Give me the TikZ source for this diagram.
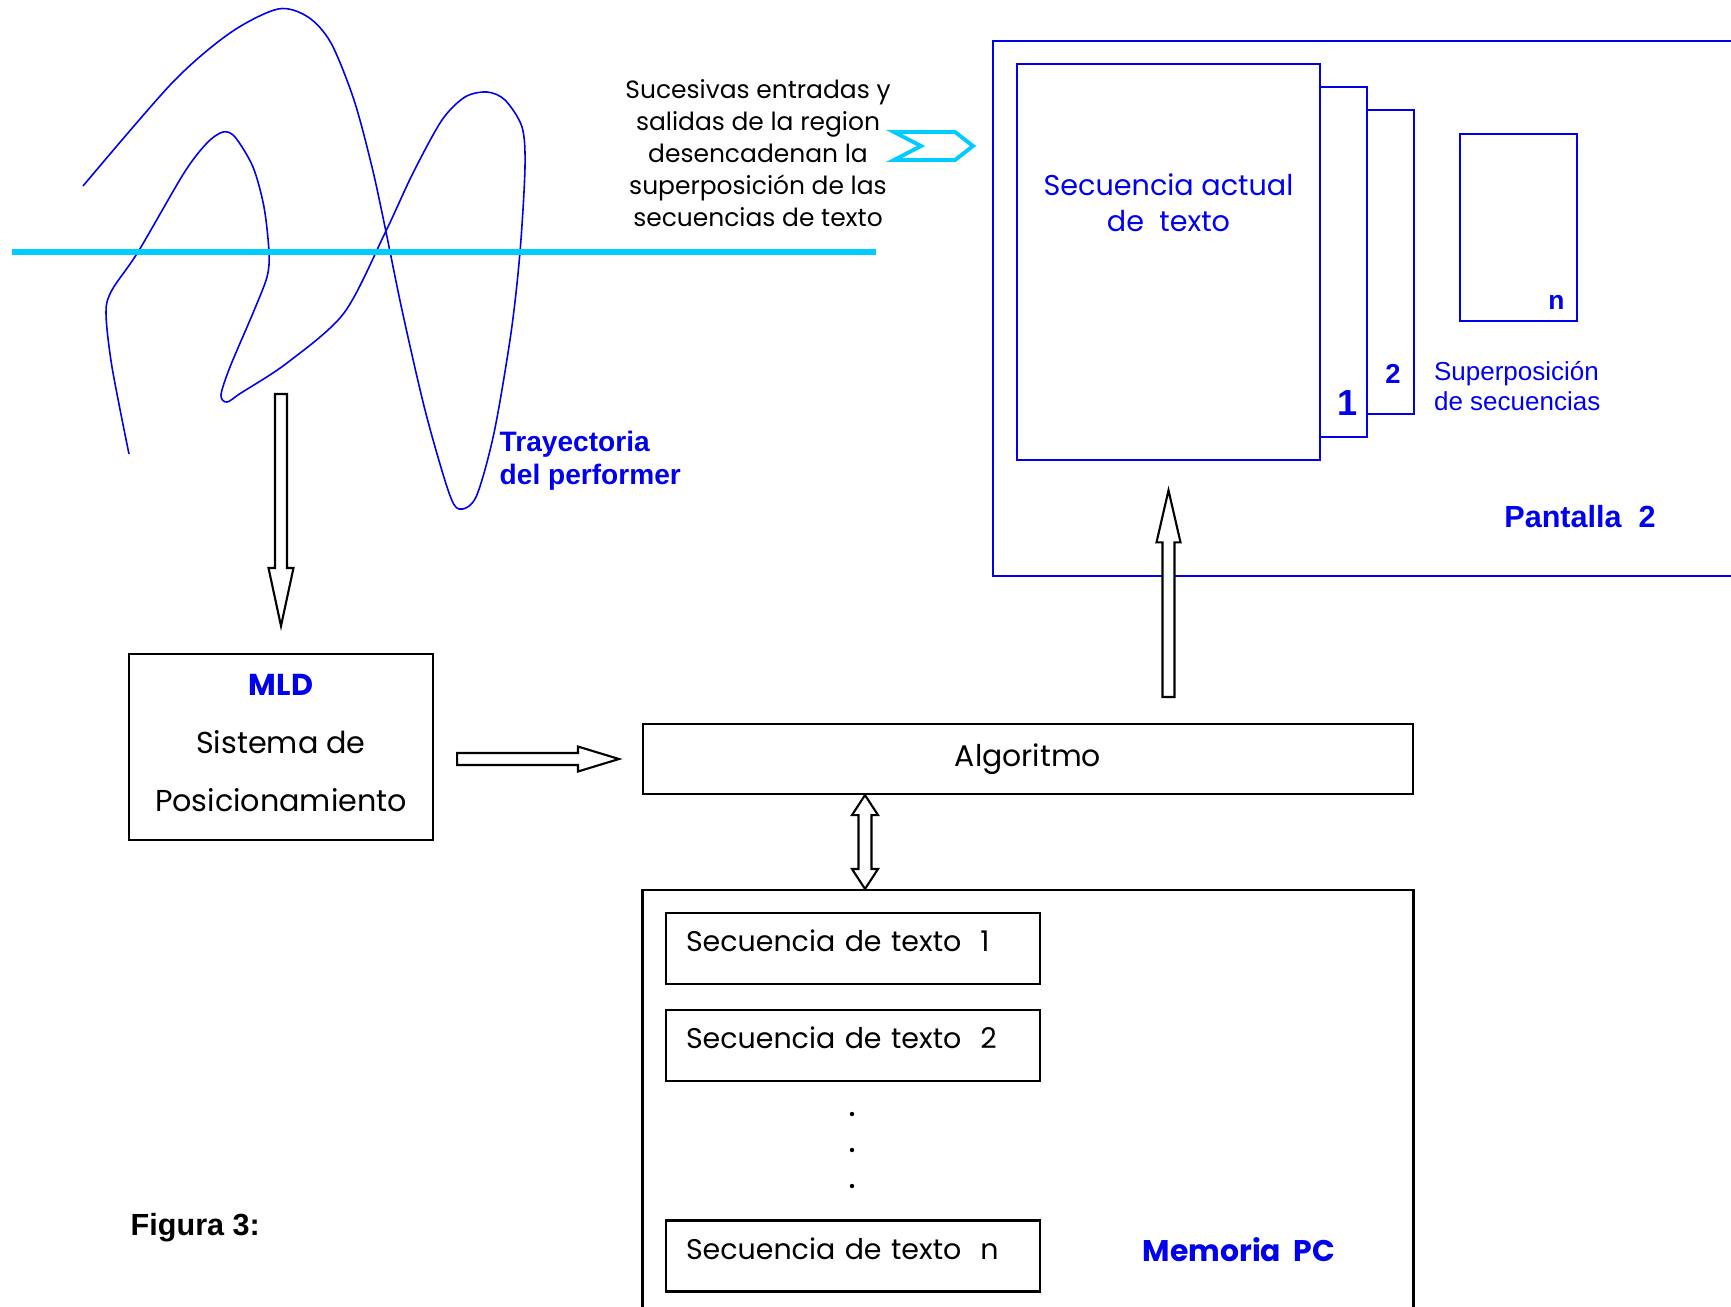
\documentclass[tikz,border=0pt]{standalone}
\usepackage{fontspec}
\setmainfont{Poppins}
\newfontfamily\arial{Liberation Sans}
\usetikzlibrary{calc}
\usetikzlibrary{positioning}
\definecolor{azul}{RGB}{0,0,238}
\definecolor{cian}{RGB}{0,204,255}
\newcommand\letra[2]{\fontsize{#1}{#2}\selectfont}
\tikzset{
  caja/.style={draw, line width=0.6pt, inner sep=0pt},
  hoja/.style={draw=azul, line width=0.75pt, fill=white, inner sep=0pt},
  secbox/.style={caja, minimum width=37.4mm, minimum height=7.1mm, text width=33.4mm,
    inner xsep=2mm, align=left, text depth=1.5mm, font=\letra{8.1}{10}},
  flecha/.style={draw, fill=white, line width=0.6pt},
  hueca/.style n args={3}{to path={
    let \p1=(\tikztostart), \p2=(\tikztotarget),
        \n1={atan2(\y2-\y1,\x2-\x1)}, \n2={veclen(\x2-\x1,\y2-\y1)} in
    {[shift={(\p1)}, rotate=\n1]
      (0pt,-#1) -- ({\n2*1pt-#3},-#1) -- ({\n2*1pt-#3},-#2) -- ({\n2*1pt},0pt)
      -- ({\n2*1pt-#3},#2) -- ({\n2*1pt-#3},#1) -- (0pt,#1) -- cycle}
  }},
  huecados/.style n args={3}{to path={
    let \p1=(\tikztostart), \p2=(\tikztotarget),
        \n1={atan2(\y2-\y1,\x2-\x1)}, \n2={veclen(\x2-\x1,\y2-\y1)} in
    {[shift={(\p1)}, rotate=\n1]
      (0pt,0pt) -- (#3,-#2) -- (#3,-#1) -- ({\n2*1pt-#3},-#1) -- ({\n2*1pt-#3},-#2)
      -- ({\n2*1pt},0pt) -- ({\n2*1pt-#3},#2) -- ({\n2*1pt-#3},#1) -- (#3,#1) -- (#3,#2) -- cycle}
  }},
}

\begin{document}
\begin{tikzpicture}[x=0.1mm, y=-0.1mm]
\useasboundingbox (0,0) rectangle (1731,1306);
\clip (0,0) rectangle (1731,1306);

\draw[azul, line width=0.45pt] plot[smooth] coordinates {(83,186) (172,83) (230,33) (278,9)
  (308,17) (331,43) (354,100) (372,167) (385,227) (402,310) (425,410) (448,490) (459,509)
  (476,497) (494,433) (511,333) (520,252) (525,167) (522,127) (505,100) (487,92) (465,97)
  (442,120) (413,173) (385,233) (344,313) (287,363) (241,393) (227,402) (221,395) (230,367)
  (253,313) (267,277) (269,252) (264,207) (253,167) (235,137) (223,132) (207,143) (184,173)
  (138,252) (112,290) (106,313) (112,367) (129,454)};
\draw[cian, line width=1.9pt] (12,252) -- (876,252);
\node[align=center, font=\letra{7.1}{9.05}] (aviso) at (758,153)
  {Sucesivas entradas y\\salidas de la region\\desencadenan la\\superposición de las\\secuencias de texto};
\draw[cian, line width=1.1pt] (894,132) -- (955,132) -- (973,146) -- (955,160) -- (894,160) -- (921,146) -- cycle;
\node[anchor=west, inner sep=0pt, align=left, text=azul, font=\arial\bfseries\letra{8}{9.4}] (tray) at (499,461)
  {Trayectoria\\del performer};

\node[caja, draw=azul, line width=0.75pt, minimum width=76.7mm, minimum height=53.5mm] (pantalla) at (1376.5,308.5) {};
\node[hoja, minimum width=31.4mm, minimum height=30.4mm] (hoja2) at (1257,262) {};
\node[hoja, minimum width=31.7mm, minimum height=35mm] (hoja1) at (1208.5,262) {};
\node[hoja, minimum width=30.3mm, minimum height=39.6mm] (actual) at (1168.5,262) {};
\node[hoja, minimum width=11.7mm, minimum height=18.7mm] (hojan) at (1518.5,227.5) {};
\node[align=center, text=azul, font=\letra{8.15}{10.2}] (actualtxt) at ($(actual.north)+(0,140)$)
  {Secuencia actual\\de\ \ texto};
\node[text=azul, font=\arial\bfseries\letra{10.3}{12}] (uno) at (1348,403) {1};
\node[text=azul, font=\arial\bfseries\letra{7.8}{9}] (dos) at (1393,374) {2};
\node[text=azul, font=\arial\bfseries\letra{7.5}{9}] (ene) at ($(hojan.south east)+(-22,-20)$) {n};
\node[anchor=west, inner sep=0pt, align=left, text=azul, font=\arial\letra{7.4}{8.5}] (superp) at ($(hoja2.east)+(18,124)$)
  {Superposición\\de secuencias};
\node[text=azul, font=\arial\bfseries\letra{8.7}{10}] (pantallatxt) at (1580,517) {Pantalla\ \ 2};

\node[caja, minimum width=30.4mm, minimum height=18.6mm, align=center, text depth=0.9mm,
  font=\letra{8.6}{16.5}] (mld) at (281,747)
  {{\bfseries\color{azul}MLD}\\Sistema de\\Posicionamiento};
\node[caja, minimum width=77mm, minimum height=7mm, font=\letra{8.5}{10}] (algo) at (1028,759) {Algoritmo};
\node[caja, minimum width=77.1mm, minimum height=45mm] (memoria) at (1028,1115) {};
\node[secbox] (sec1) at (853,948.5) {Secuencia de texto\ \ 1};
\node[secbox, below=2.4mm of sec1] (sec2) {Secuencia de texto\ \ 2};
\node[secbox] (secn) at (853,1256) {Secuencia de texto\ \ n};
\foreach \y in {1114,1150,1186}
  \fill (852,\y) circle (0.22mm);
\node[text=azul, font=\bfseries\letra{8.5}{10}] (memtxt) at (1239,1250) {Memoria\ \ PC};
\node[anchor=west, inner sep=0pt, font=\arial\bfseries\letra{8.7}{10}] (figura) at (130,1228) {Figura 3:};

\coordinate (pie) at (281,394);
\draw[flecha, hueca={0.6mm}{1.25mm}{5.8mm}] (pie) to ($(mld.north)+(0,-27)$);
\draw[flecha, hueca={0.6mm}{1.25mm}{4.1mm}] ($(mld.east |- algo.west)+(23,0)$) to ($(algo.west)+(-23,0)$);
\draw[flecha, hueca={0.6mm}{1.2mm}{5.2mm}] ($(actual.south |- algo.north)+(0,-26)$) to ($(actual.south)+(0,29)$);
\draw[flecha, huecados={0.65mm}{1.3mm}{2mm}] ($(algo.south)+(-163,0)$) to ($(memoria.north)+(-163,0)$);
\end{tikzpicture}
\end{document}
